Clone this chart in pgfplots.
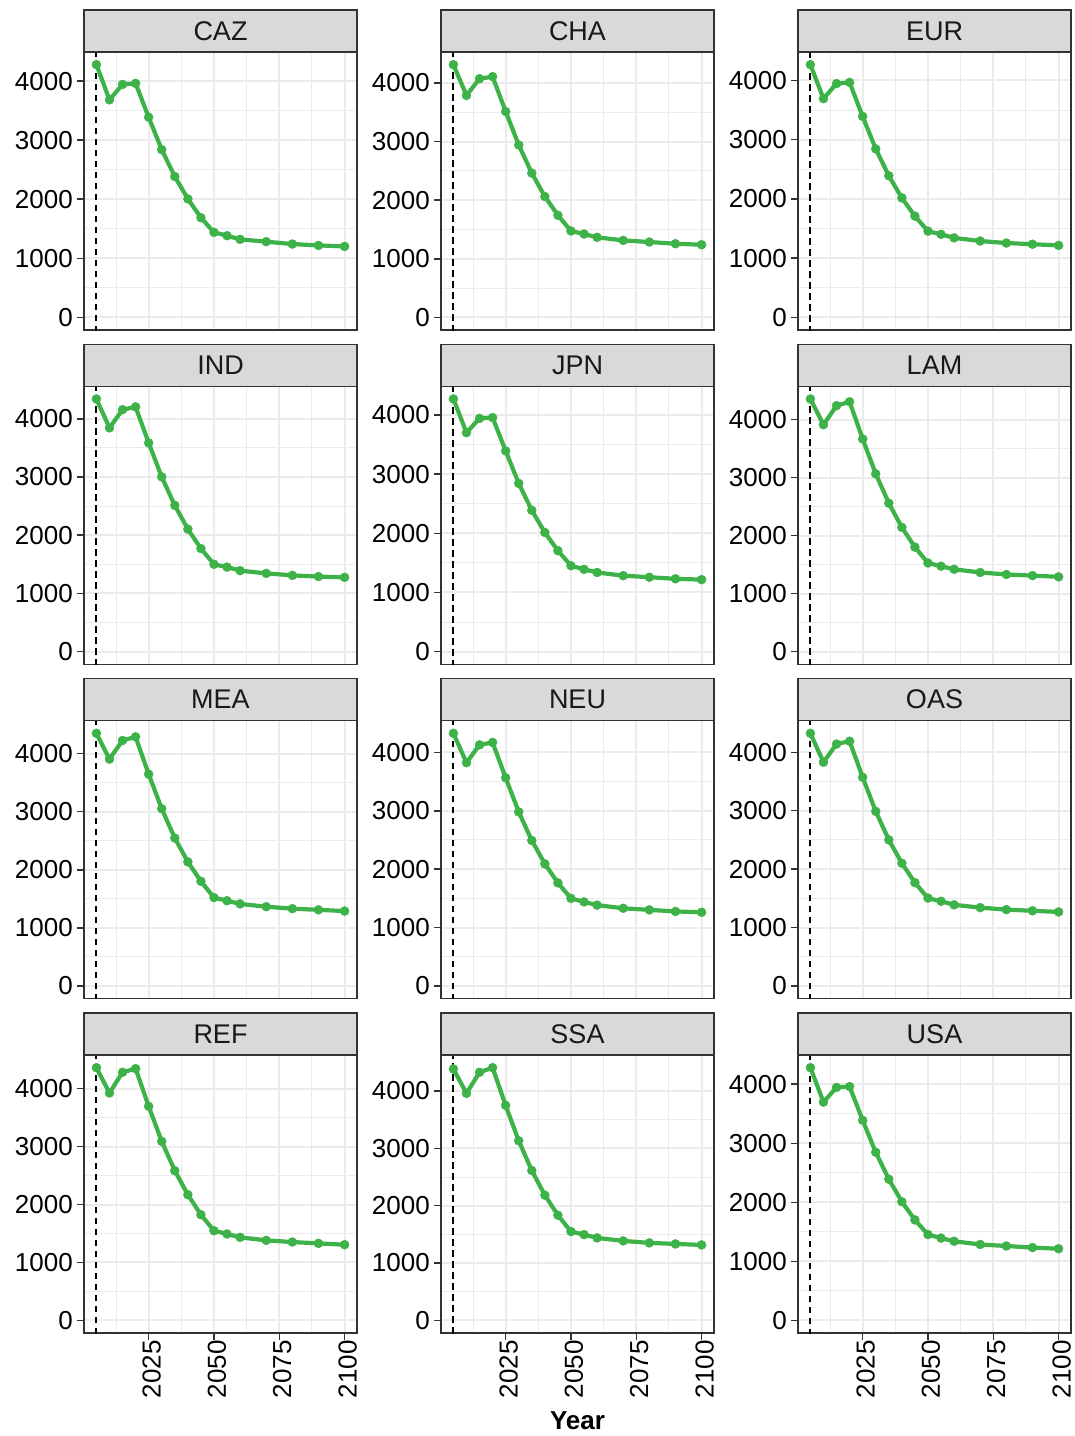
\documentclass[border=0pt]{standalone}
\usepackage{pgfplots}
\pgfplotsset{compat=1.18}
\usepackage{pgfplotstable}
\usepackage{fontspec}
\setmainfont{Liberation Sans}
\definecolor{gtwenty}{HTML}{333333}
\definecolor{stripfill}{HTML}{D9D9D9}
\definecolor{gridc}{HTML}{EBEBEB}
\definecolor{linegreen}{HTML}{3DB249}

\pgfplotstableread{
year CAZ CHA EUR IND JPN LAM MEA NEU OAS REF SSA USA
2005 4278 4314 4267 4340 4268 4355 4348 4326 4325 4362 4384 4281
2010 3683 3789 3693 3844 3699 3911 3904 3823 3830 3925 3959 3698
2015 3943 4074 3947 4156 3940 4239 4225 4129 4142 4282 4326 3946
2020 3961 4109 3967 4204 3953 4307 4287 4170 4190 4345 4407 3960
2025 3388 3514 3392 3586 3391 3666 3645 3565 3573 3695 3749 3390
2030 2839 2943 2845 3002 2843 3065 3051 2981 2990 3090 3132 2848
2035 2385 2463 2391 2513 2388 2560 2546 2492 2502 2584 2614 2392
2040 2006 2063 2017 2105 2013 2143 2137 2092 2102 2170 2183 2010
2045 1688 1743 1710 1772 1706 1802 1802 1766 1769 1824 1834 1702
2050 1439 1474 1456 1501 1452 1529 1522 1501 1505 1548 1549 1454
2055 1383 1423 1402 1453 1391 1474 1468 1440 1451 1491 1496 1394
2060 1320 1366 1342 1392 1338 1420 1413 1385 1390 1433 1438 1340
2070 1281 1314 1289 1345 1284 1365 1365 1331 1342 1381 1386 1286
2080 1241 1286 1255 1311 1258 1331 1331 1304 1308 1352 1351 1260
2090 1218 1257 1235 1290 1231 1311 1311 1277 1288 1329 1333 1233
2100 1201 1240 1215 1277 1217 1290 1290 1263 1268 1306 1316 1213
}\emissions

\pgfplotsset{
  facet/.style={
    scale only axis, width=273pt, height=278pt, anchor=south west,
    xmin=2000.25, xmax=2104.75,
    xtick={2025,2050,2075,2100}, minor xtick={2012.5,2037.5,2062.5,2087.5},
    ytick={0,1000,2000,3000,4000}, minor ytick={500,1500,2500,3500},
    grid=both,
    major grid style={draw=gridc, line width=2pt},
    minor grid style={draw=gridc, line width=1pt},
    axis line style={draw=gtwenty, line width=1.5pt},
    tick style={draw=gtwenty, line width=1.5pt},
    tick align=outside, major tick length=7pt, minor tick length=0pt,
    tick pos=left,
    scaled ticks=false,
    /pgf/number format/assume math mode=true,
    /pgf/number format/1000 sep={},
    yticklabel style={font=\fontsize{26}{30}\selectfont, text=black, inner sep=0pt, xshift=-4pt},
    xticklabel style={font=\fontsize{26}{30}\selectfont, text=black, rotate=90, anchor=east, inner sep=0pt, yshift=-3pt},
    xmajorticks=false,
    title style={at={(0.5,1)}, anchor=south, yshift=-6pt, minimum width=273pt,
      minimum height=42pt, inner sep=0pt, outer sep=0pt, fill=stripfill,
      draw=gtwenty, line width=1.5pt, font=\fontsize{27}{32}\selectfont, text=black!90},
  },
  bottomrow/.style={xmajorticks=true},
}

\newcommand{\facet}[6]{%
\begin{axis}[facet, at={(#2pt,-#3pt)}, ymin=#4, ymax=#5, title={#1}, #6]
\addplot[black, line width=2pt, dash pattern=on 6.5pt off 4.5pt] coordinates {(2005,-1000) (2005,6000)};
\addplot[linegreen, line width=4.2pt, mark=*, mark size=4.5pt,
  mark options={solid, fill=linegreen, draw=linegreen, line width=0.4pt}]
  table[x=year, y=#1]{\emissions};
\end{axis}}

\begin{document}
\begin{tikzpicture}
\useasboundingbox (0,0) rectangle (1075pt,-1436pt);
\facet{CAZ}{84}{330}{-213.9}{4491.9}{}
\facet{CHA}{441}{330}{-215.7}{4529.7}{}
\facet{EUR}{798}{330}{-213.35}{4480.35}{}
\facet{IND}{84}{664.33}{-217}{4557}{}
\facet{JPN}{441}{664.33}{-213.4}{4481.4}{}
\facet{LAM}{798}{664.33}{-217.75}{4572.75}{}
\facet{MEA}{84}{998.67}{-217.4}{4565.4}{}
\facet{NEU}{441}{998.67}{-216.3}{4542.3}{}
\facet{OAS}{798}{998.67}{-216.25}{4541.25}{}
\facet{REF}{84}{1333}{-218.1}{4580.1}{bottomrow}
\facet{SSA}{441}{1333}{-220.35}{4627.35}{bottomrow, xlabel={Year}, xlabel style={font=\fontsize{26}{30}\selectfont\bfseries, text=black, yshift=-10pt}}
\facet{USA}{798}{1333}{-214.05}{4495.05}{bottomrow}
\end{tikzpicture}
\end{document}
